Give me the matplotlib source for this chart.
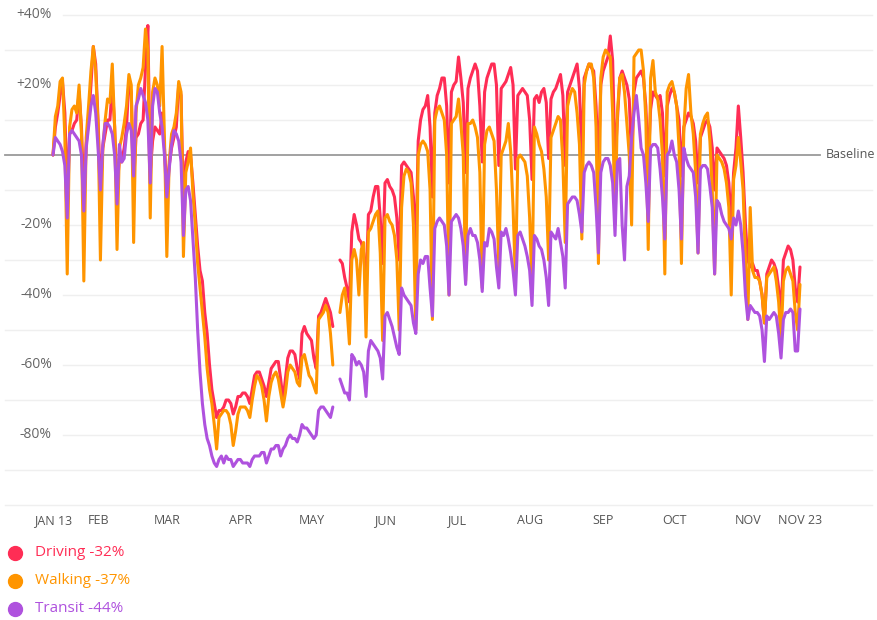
import numpy as np
import matplotlib
matplotlib.use("Agg")
import matplotlib.pyplot as plt
from matplotlib.lines import Line2D

nan = np.nan

# daily % change vs baseline, Jan 13 - Nov 23 2020, one row per week (Mon..Sun)
driving_weeks = [
    [0, 8, 12, 17, 21, 12, -12], [6, 7, 9, 10, 18, 8, -12],
    [3, 10, 20, 31, 26, 10, -10], [2, 6, 10, 10, 20, 8, -10],
    [-1, -2, 2, 8, 21, 18, -8], [5, 6, 9, 10, 25, 37, -5],
    [4, 8, 7, 6, 12, 2, -10], [-3, 2, 5, 8, 20, 17, -15],
    [-2, 1, 0, -8, -17, -26, -33], [-36, -45, -51, -60, -67, -71, -75],
    [-73, -73, -72, -70, -70, -71, -74], [-72, -69, -69, -68, -68, -69, -71],
    [-67, -63, -62, -62, -64, -66, -69], [-65, -61, -60, -59, -59, -64, -70],
    [-64, -58, -56, -56, -57, -61, -64], [-51, -49, -51, -52, -53, -58, -61],
    [-46, -45, -43, -41, -43, -45, -49], [nan, nan, -30, -31, -35, -38, -42],
    [-22, -17, -20, -24, -25, -28, -38], [-17, -16, -12, -9, -9, -18, -31],
    [-8, -7, -9, -10, -12, -18, -30], [-3, -2, -3, -4, -5, -12, -28],
    [4, 10, 13, 14, 17, 8, -12], [12, 17, 19, 22, 22, 14, -8],
    [18, 20, 21, 28, 22, 15, -5], [19, 22, 24, 26, 24, 14, -2],
    [18, 22, 24, 26, 26, 20, -3], [19, 20, 21, 23, 25, 20, -4],
    [17, 18, 19, 18, 17, 10, -7], [16, 17, 15, 18, 19, 15, -1],
    [16, 18, 19, 21, 23, 17, -3], [18, 20, 22, 24, 26, 19, -2],
    [22, 24, 26, 25, 24, 14, -3], [20, 24, 26, 28, 34, 27, -2],
    [10, 22, 24, 22, 20, 16, -2], [18, 22, 23, 24, 22, 14, -3],
    [13, 18, 17, 16, 17, 12, -6], [14, 17, 19, 18, 14, 10, -6],
    [8, 10, 12, 11, 9, 4, -8], [5, 7, 9, 10, 8, 2, -10],
    [2, 1, 0, -1, -3, -8, -20], [-5, 2, 14, 5, -5, -20, -30],
    [-32, -31, -33, -33, -36, -40, -48], [-34, -32, -30, -31, -33, -38, -45],
    [-30, -28, -26, -27, -30, -38, -42], [-32],
]
walking_weeks = [
    [0, 11, 14, 21, 22, 5, -34], [8, 13, 14, 12, 20, 6, -36],
    [5, 14, 24, 31, 24, 8, -30], [2, 10, 16, 15, 26, 8, -27],
    [2, 5, 9, 14, 23, 20, -25], [12, 20, 22, 25, 36, 30, -18],
    [18, 22, 20, 14, 31, 5, -29], [-2, 6, 8, 12, 21, 18, -29],
    [-5, -2, 2, -11, -20, -31, -38], [-45, -52, -61, -67, -71, -77, -84],
    [-75, -74, -73, -73, -74, -77, -83], [-79, -74, -72, -72, -72, -73, -75],
    [-70, -66, -63, -64, -66, -70, -76], [-69, -65, -63, -62, -64, -68, -72],
    [-68, -62, -60, -61, -62, -65, -66], [-58, -57, -60, -63, -64, -66, -68],
    [-47, -46, -45, -43, -45, -51, -60], [nan, nan, -45, -40, -38, -44, -54],
    [-30, -27, -30, -40, -27, -25, -52], [-22, -21, -19, -17, -16, -28, -53],
    [-18, -17, -19, -20, -23, -30, -50], [-15, -6, -4, -5, -8, -20, -50],
    [0, 3, 4, 3, 1, -10, -47], [10, 13, 14, 12, 10, 0, -40],
    [9, 10, 11, 16, 9, 0, -36], [9, 9, 10, 8, 5, -5, -38],
    [3, 7, 8, 6, 4, -10, -32], [0, 2, 4, 9, 1, -15, -36],
    [-1, 0, -1, -2, -6, -18, -38], [8, 6, 3, 1, -4, -12, -30],
    [5, 7, 9, 11, 10, -2, -25], [14, 17, 19, 18, 12, 3, -24],
    [20, 24, 26, 26, 22, 8, -31], [22, 28, 30, 29, 28, 12, -20],
    [12, 22, 23, 18, 9, 0, -20], [28, 29, 30, 30, 24, 10, -27],
    [22, 27, 18, 16, 10, 0, -34], [18, 20, 21, 18, 14, 2, -31],
    [7, 19, 23, 12, 6, -5, -28], [6, 9, 11, 12, 4, -10, -34],
    [0, -1, -2, -4, -8, -15, -40], [-7, -3, 5, -2, -10, -30, -47],
    [-15, -33, -35, -35, -36, -40, -48], [-35, -34, -33, -32, -36, -42, -53],
    [-36, -33, -32, -34, -36, -45, -50], [-37],
]
transit_weeks = [
    [0, 5, 4, 3, 1, -3, -18], [6, 7, 6, 5, 4, 0, -16],
    [2, 8, 14, 17, 12, 2, -10], [3, 9, 9, 8, 6, 0, -14],
    [3, -2, -1, 6, 9, 7, -6], [14, 16, 19, 17, 15, 10, -8],
    [14, 19, 18, 12, 8, 0, -12], [-4, 3, 7, 6, 4, -2, -23],
    [-10, -9, -13, -24, -35, -50, -62], [-71, -77, -81, -83, -86, -88, -89],
    [-87, -86, -88, -86, -87, -87, -89], [-88, -87, -87, -88, -88, -88, -89],
    [-87, -86, -86, -86, -85, -85, -88], [-86, -84, -84, -83, -83, -86, -84],
    [-83, -81, -80, -81, -81, -82, -80], [-77, -78, -78, -79, -80, -81, -80],
    [-73, -72, -72, -73, -74, -75, -72], [nan, nan, -64, -66, -68, -68, -70],
    [-57, -58, -60, -59, -60, -62, -69], [-56, -53, -54, -55, -56, -58, -64],
    [-46, -45, -47, -49, -52, -55, -57], [-38, -40, -41, -42, -43, -48, -51],
    [-34, -30, -31, -29, -29, -38, -46], [-21, -19, -18, -19, -20, -26, -40],
    [-19, -18, -17, -18, -21, -26, -37], [-23, -21, -23, -23, -25, -30, -39],
    [-25, -26, -21, -22, -24, -32, -38], [-22, -23, -21, -24, -28, -33, -40],
    [-23, -22, -24, -26, -29, -33, -43], [-23, -24, -26, -27, -30, -35, -43],
    [-22, -23, -24, -21, -25, -29, -38], [-14, -13, -12, -12, -13, -17, -22],
    [-5, -3, -2, -3, -5, -15, -28], [-5, -2, -1, -1, -3, -8, -23],
    [-2, -1, -20, -30, -9, -6, 5], [12, 17, 10, 2, 0, -8, -19],
    [2, 3, 3, 2, -4, -12, -24], [0, 1, 4, 0, -2, -10, -24],
    [2, -1, -3, -4, -5, -12, -28], [-4, -3, -3, -4, -9, -15, -34],
    [-13, -14, -17, -19, -20, -21, -24], [-18, -20, -16, -20, -28, -40, -47],
    [-43, -44, -45, -45, -46, -50, -59], [-46, -47, -46, -45, -46, -51, -58],
    [-47, -45, -45, -44, -45, -56, -56], [-44],
]

series_names = ["Driving", "Walking", "Transit"]
series_last = ["-32%", "-37%", "-44%"]
month_labels = ["JAN 13", "FEB", "MAR", "APR", "MAY", "JUN", "JUL",
                "AUG", "SEP", "OCT", "NOV", "NOV 23"]
month_days = [0, 19, 48, 79, 109, 140, 170, 201, 232, 262, 293, 315]
labeled_grid = [40, 20, -20, -40, -60, -80]
plain_grid = [30, 10, -10, -30, -50, -70, -90, -100]

colors = ["#FF2D55", "#FF9500", "#AF52DE"]
FONT = "Open Sans"

W, H = 877, 620
fig = plt.figure(figsize=(W / 100, H / 100), dpi=100)
# axes spans full width; day 0 at px 53, day 315 at px 800
ppd = (800 - 53) / 315
ax = fig.add_axes([0, 1 - 508.5 / H, 1, 497 / H])
ax.set_xlim(-53 / ppd, (W - 53) / ppd)
ax.set_ylim(-101, 41)
for s in ax.spines.values():
    s.set_visible(False)
ax.set_yticks([])

tr = ax.get_yaxis_transform()
for g in labeled_grid:
    ax.plot([63 / W, 872 / W], [g, g], transform=tr, color="#efefef", lw=1, zorder=0)
    ax.text(52 / W, g, f"{g:+d}%", transform=tr, ha="right", va="center",
            fontsize=10, color="#666666", family=FONT)
for g in plain_grid:
    ax.plot([5 / W, 872 / W], [g, g], transform=tr, color="#efefef", lw=1, zorder=0)
ax.plot([5 / W, 820 / W], [0, 0], transform=tr, color="#9a9a9a", lw=1.3, zorder=1)
ax.text(826 / W, 0, "Baseline", transform=tr, ha="left", va="center",
        fontsize=9, color="#555555", family=FONT)

days = np.arange(316)
for weeks, c in zip([driving_weeks, walking_weeks, transit_weeks], colors):
    vals = np.array([v for wk in weeks for v in wk], dtype=float)
    ax.plot(days, vals, color=c, lw=2.2, solid_joinstyle="round",
            solid_capstyle="round", zorder=3)

ax.set_xticks(month_days)
ax.set_xticklabels(month_labels, fontsize=9, color="#555555", family=FONT)
ax.tick_params(axis="x", length=0, pad=4)

for i, (name, last, c) in enumerate(zip(series_names, series_last, colors)):
    y = 1 - (553 + 28 * i) / H
    fig.add_artist(Line2D([15 / W], [y], marker="o", ms=10, color=c,
                          transform=fig.transFigure))
    fig.text(35 / W, y, f"{name} {last}", color=c, fontsize=11,
             va="center", ha="left", family=FONT)

fig.savefig("out.png", dpi=100)
